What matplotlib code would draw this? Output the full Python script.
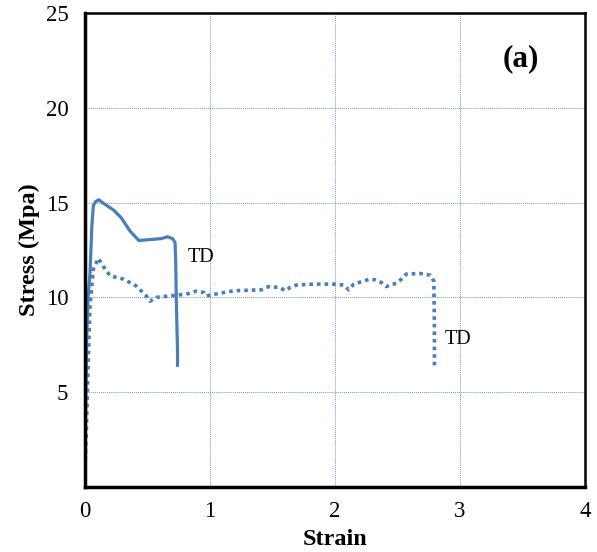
import matplotlib.pyplot as plt

plt.rcParams['font.family'] = ['Liberation Serif', 'DejaVu Serif']

# Stress-strain curves (TD direction)
strain_solid = [0.0, 0.005, 0.013, 0.025, 0.04, 0.055, 0.067, 0.085, 0.11, 0.15, 0.23, 0.29,
                0.36, 0.43, 0.52, 0.61, 0.66, 0.70, 0.72, 0.725, 0.73, 0.735, 0.74, 0.74]
stress_solid = [1.2, 4.0, 7.8, 10.0, 11.3, 13.8, 14.85, 15.05, 15.15, 14.95, 14.6, 14.2,
                13.5, 13.0, 13.05, 13.1, 13.2, 13.1, 12.9, 12.0, 10.0, 8.5, 7.2, 6.4]

strain_dot = [0.0, 0.013, 0.025, 0.04, 0.067, 0.107, 0.15, 0.2, 0.31, 0.41, 0.49, 0.52, 0.57,
              0.68, 0.81, 0.89, 0.95, 0.97, 1.08, 1.19, 1.41, 1.47, 1.56, 1.6, 1.64, 1.69,
              1.83, 1.99, 2.07, 2.11, 2.15, 2.23, 2.28, 2.32, 2.37, 2.41, 2.49, 2.53, 2.57,
              2.68, 2.76, 2.79, 2.795, 2.795]
stress_dot = [1.0, 3.5, 6.4, 9.55, 11.5, 12.06, 11.6, 11.14, 10.96, 10.6, 10.08, 9.8, 10.0,
              10.08, 10.17, 10.33, 10.26, 10.08, 10.22, 10.35, 10.4, 10.57, 10.52, 10.35,
              10.52, 10.65, 10.7, 10.7, 10.65, 10.4, 10.7, 10.87, 10.96, 10.93, 10.79, 10.57,
              10.75, 10.96, 11.23, 11.26, 11.17, 10.87, 8.5, 6.3]

blue = '#4a7ebb'

fig = plt.figure(figsize=(5.97, 5.52), dpi=100)
ax = fig.add_axes([0.1424, 0.1178, 0.8376, 0.8586])

ax.plot(strain_solid, stress_solid, color=blue, linewidth=2.3, solid_capstyle='round')
ax.plot(strain_dot, stress_dot, color=blue, linewidth=2.6, linestyle=(0, (1, 1.1)))

ax.set_xlim(0, 4)
ax.set_ylim(0, 25)
ax.set_xticks([0, 1, 2, 3, 4])
ax.set_yticks([5, 10, 15, 20, 25])
ax.grid(True, color='#4a7ebb', linestyle=(0, (1, 1)), linewidth=0.7, alpha=0.8)
ax.set_axisbelow(True)
ax.tick_params(length=0, labelsize=16.5)
ax.tick_params(axis='x', pad=10)
ax.tick_params(axis='y', pad=12)

for side in ['top', 'right']:
    ax.spines[side].set_linewidth(1.8)
for side in ['left', 'bottom']:
    ax.spines[side].set_linewidth(2.5)

ax.set_xlabel('Strain', fontsize=17.5, fontweight='bold', labelpad=5)
ax.set_ylabel('Stress (Mpa)', fontsize=17.5, fontweight='bold', labelpad=4)

ax.text(0.82, 12.1, 'TD', fontsize=14.5, va='center', ha='left')
ax.text(2.88, 7.8, 'TD', fontsize=14.5, va='center', ha='left')
ax.text(3.49, 22.6, '(a)', fontsize=22.5, fontweight='bold', va='center', ha='center')

fig.savefig('out.png', dpi=100)
